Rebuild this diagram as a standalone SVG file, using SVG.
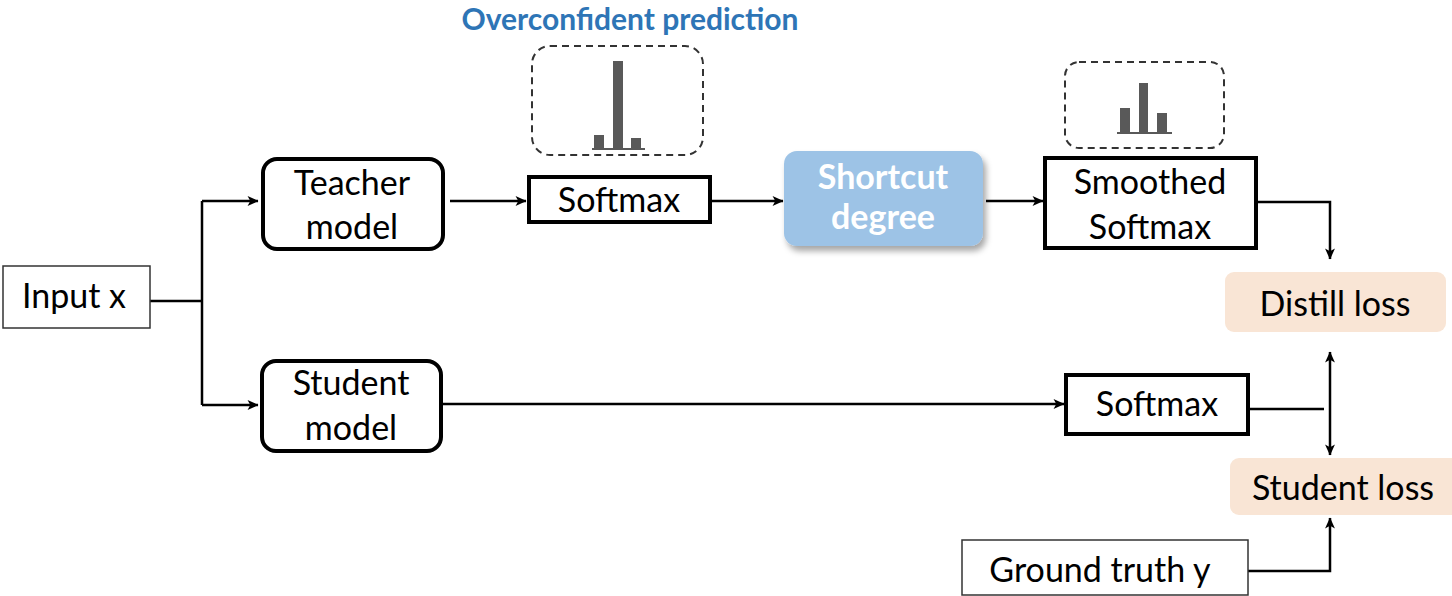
<svg xmlns="http://www.w3.org/2000/svg" width="1452" height="596" viewBox="0 0 1452 596">
<style>
  .t { font-family: Lato, "Liberation Sans", sans-serif; font-size: 34px; fill: #000; text-anchor: middle; }
  .thick { fill: #fff; stroke: #000; stroke-width: 4; }
  .thin { fill: #fff; stroke: #333; stroke-width: 1.5; }
  .dash { fill: none; stroke: #333; stroke-width: 2; stroke-dasharray: 7 5; }
  .bar { fill: #595959; }
  .loss { fill: #F9E5D5; }
  .c { fill: none; stroke: #000; stroke-width: 2.5; }
</style>
<defs>
  <marker id="ah" viewBox="0 0 10 10" refX="9.5" refY="5" markerWidth="12" markerHeight="11" orient="auto-start-reverse" markerUnits="userSpaceOnUse">
    <path d="M0,0.5 L10,5 L0,9.5 L2.5,5 z" fill="#000"/>
  </marker>
  <filter id="sh" x="-20%" y="-20%" width="150%" height="160%">
    <feDropShadow dx="3" dy="5" stdDeviation="3" flood-color="#000" flood-opacity="0.35"/>
  </filter>
</defs>
<rect width="1452" height="596" fill="#fff"/>

<g id="title">
  <text x="630" y="30" style="font-family: Lato, 'Liberation Sans', sans-serif; font-size: 30px; font-weight: bold; fill: #2E75B6; text-anchor: middle;">Overconfident prediction</text>
</g>

<g id="connectors">
  <path class="c" d="M150,301 H202 M202,201 V405"/>
  <path class="c" d="M202,201 H258" marker-end="url(#ah)"/>
  <path class="c" d="M202,405 H258" marker-end="url(#ah)"/>
  <path class="c" d="M450,201 H526" marker-end="url(#ah)"/>
  <path class="c" d="M712,201 H783" marker-end="url(#ah)"/>
  <path class="c" d="M986,201 H1043" marker-end="url(#ah)"/>
  <path class="c" d="M1257,202 H1330 V259" marker-end="url(#ah)"/>
  <path class="c" d="M443,404 H1064" marker-end="url(#ah)"/>
  <path class="c" d="M1248,409 H1324"/>
  <path class="c" d="M1330,352 V455" marker-start="url(#ah)" marker-end="url(#ah)"/>
  <path class="c" d="M1248,571 H1330 V518" marker-end="url(#ah)"/>
</g>

<g id="input">
  <rect class="thin" x="3" y="266" width="147" height="62"/>
  <text class="t" x="74" y="308">Input x</text>
</g>

<g id="teacher">
  <rect class="thick" x="263" y="159" width="180" height="90" rx="14"/>
  <text class="t" x="352" y="195">Teacher</text>
  <text class="t" x="352" y="239">model</text>
</g>

<g id="student">
  <rect class="thick" x="262" y="361" width="179" height="90" rx="14"/>
  <text class="t" x="351" y="395">Student</text>
  <text class="t" x="351" y="440">model</text>
</g>

<g id="overconfident">
  <rect class="dash" x="532" y="46" width="171" height="109" rx="18"/>
  <rect class="bar" x="594" y="135" width="10" height="14"/>
  <rect class="bar" x="613" y="61" width="10" height="88"/>
  <rect class="bar" x="631" y="138" width="10" height="11"/>
  <rect class="bar" x="592" y="148" width="53" height="2"/>
</g>

<g id="softmax1">
  <rect class="thick" x="529" y="177" width="181" height="45"/>
  <text class="t" x="619" y="212">Softmax</text>
</g>

<g id="shortcut">
  <rect x="784" y="151" width="199" height="95" rx="13" fill="#9DC3E6" filter="url(#sh)"/>
  <text class="t" x="883" y="189" style="font-weight: bold; fill: #fff;">Shortcut</text>
  <text class="t" x="883" y="229" style="font-weight: bold; fill: #fff;">degree</text>
</g>

<g id="smoothed-dist">
  <rect class="dash" x="1065" y="62" width="159" height="86" rx="14"/>
  <rect class="bar" x="1120" y="108" width="10" height="25"/>
  <rect class="bar" x="1139" y="83" width="9" height="50"/>
  <rect class="bar" x="1157" y="113" width="10" height="20"/>
  <rect class="bar" x="1117" y="132" width="55" height="2"/>
</g>

<g id="smoothed">
  <rect class="thick" x="1045" y="158" width="211" height="90"/>
  <text class="t" x="1150" y="194">Smoothed</text>
  <text class="t" x="1150" y="239">Softmax</text>
</g>

<g id="distill">
  <rect class="loss" x="1225" y="272" width="221" height="60" rx="9"/>
  <text class="t" x="1335" y="316">Distill loss</text>
</g>

<g id="softmax2">
  <rect class="thick" x="1066" y="375" width="182" height="59"/>
  <text class="t" x="1157" y="416">Softmax</text>
</g>

<g id="studentloss">
  <rect class="loss" x="1230" y="458" width="230" height="57" rx="9"/>
  <text class="t" x="1343" y="500">Student loss</text>
</g>

<g id="groundtruth">
  <rect class="thin" x="962" y="540" width="286" height="55"/>
  <text class="t" x="1100" y="582">Ground truth y</text>
</g>
</svg>
